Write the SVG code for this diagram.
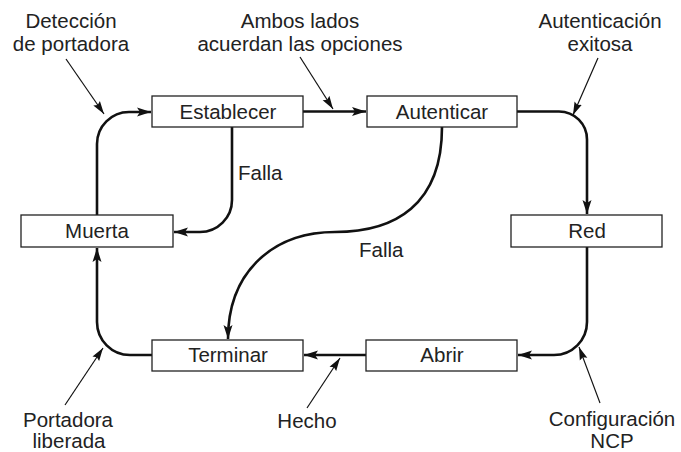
<svg xmlns="http://www.w3.org/2000/svg" width="681" height="452" viewBox="0 0 681 452">
<style>
text{font-family:"Liberation Sans",Arial,sans-serif;font-size:20.5px;fill:#222}
.box{fill:#fff;stroke:#222;stroke-width:1.3}
.lbl{text-anchor:middle}
.c{fill:none;stroke:#111;stroke-width:2.6;marker-end:url(#ah)}
.p{fill:none;stroke:#111;stroke-width:1.2;marker-end:url(#ap)}
</style>
<defs>
<marker id="ah" markerUnits="userSpaceOnUse" markerWidth="16" markerHeight="10" refX="14" refY="5" orient="auto" viewBox="0 0 16 10">
<path d="M0,0.5 L14,5 L0,9.5 L3,5 z" fill="#111"/>
</marker>
<marker id="ap" markerUnits="userSpaceOnUse" markerWidth="14" markerHeight="10" refX="13" refY="5" orient="auto" viewBox="0 0 14 10">
<path d="M0,1 L13,5 L0,9 L2,5 z" fill="#111"/>
</marker>
</defs>
<g id="connectors">
<path class="c" d="M152,355 H130 A33,33 0 0 1 97,322 V248"/>
<path class="c" d="M97,215 V144 A32,32 0 0 1 129,112 H151"/>
<path class="c" d="M303,111.5 H366"/>
<path class="c" d="M517,111.5 H559 A28,28 0 0 1 587,139.5 V214"/>
<path class="c" d="M587,247 V322 A33,33 0 0 1 554,355 H518"/>
<path class="c" d="M366,355 H304"/>
<path class="c" d="M232,127 V200 A32,32 0 0 1 200,232 H174"/>
<path class="c" d="M442,127 C442,205 395,232 335,232 C275,232 228,270 228,339"/>
<path class="p" d="M66,59 L104,114"/>
<path class="p" d="M300,57 L333,109"/>
<path class="p" d="M598,58 L573,115"/>
<path class="p" d="M65,405 L103,348"/>
<path class="p" d="M307,408 L340,358"/>
<path class="p" d="M600,403 L579,347"/>
</g>
<g id="establecer"><rect class="box" x="152" y="96" width="151" height="31"/><text class="lbl" x="228" y="119">Establecer</text></g>
<g id="autenticar"><rect class="box" x="367" y="96" width="150" height="31"/><text class="lbl" x="442" y="119">Autenticar</text></g>
<g id="muerta"><rect class="box" x="21" y="215" width="152" height="32"/><text class="lbl" x="97" y="238">Muerta</text></g>
<g id="red"><rect class="box" x="511" y="215" width="151" height="32"/><text class="lbl" x="587" y="238">Red</text></g>
<g id="terminar"><rect class="box" x="152" y="340" width="151" height="31"/><text class="lbl" x="228" y="362">Terminar</text></g>
<g id="abrir"><rect class="box" x="366" y="340" width="151" height="31"/><text class="lbl" x="442" y="362">Abrir</text></g>
<g id="labels">
<text class="lbl" x="71" y="28">Detección</text>
<text class="lbl" x="71" y="51">de portadora</text>
<text class="lbl" x="300" y="28">Ambos lados</text>
<text class="lbl" x="300" y="51">acuerdan las opciones</text>
<text class="lbl" x="600" y="28">Autenticación</text>
<text class="lbl" x="600" y="51">exitosa</text>
<text x="238" y="180">Falla</text>
<text x="359" y="257">Falla</text>
<text class="lbl" x="68" y="427">Portadora</text>
<text class="lbl" x="69" y="448">liberada</text>
<text class="lbl" x="307" y="428">Hecho</text>
<text class="lbl" x="612" y="426">Configuración</text>
<text class="lbl" x="612" y="448">NCP</text>
</g>
</svg>
